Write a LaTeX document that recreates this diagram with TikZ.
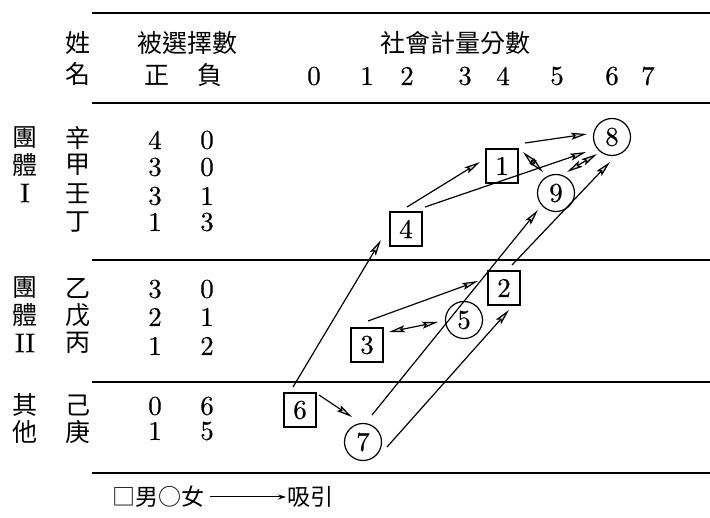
\documentclass[tikz,border=0pt]{standalone}
\usepackage{fontspec}
\newfontfamily\cjk{Noto Sans CJK TC}
\newfontfamily\dig{lmroman10-regular.otf}[FakeBold=0.5]
\usetikzlibrary{arrows.meta}
\tikzset{
  cj/.style={inner sep=0pt, font=\cjk\fontsize{25}{25}\selectfont},
  lg/.style={inner sep=0pt, font=\cjk\fontsize{23}{23}\selectfont},
  num/.style={inner sep=0pt, font=\dig\fontsize{27}{27}\selectfont},
  rule/.style={line width=1.3pt},
  male/.style={draw, line width=1.2pt, minimum width=32pt, minimum height=34pt, inner sep=0pt, font=\dig\fontsize{27}{27}\selectfont},
  female/.style={draw, circle, line width=1.2pt, minimum size=37pt, inner sep=0pt, font=\dig\fontsize{27}{27}\selectfont},
  hd/.tip={Stealth[length=16pt,width=7pt,inset=3pt,fill=gray!35]},
  att/.style={line width=1.2pt, -{hd}},
  mutual/.style={line width=1.2pt, {hd}-{hd}},
  lgarrow/.style={line width=1pt, -{Stealth[length=8pt,width=5pt]}}
}
\begin{document}
\begin{tikzpicture}[x=1pt,y=-1pt]
\useasboundingbox (0,0) rectangle (710,518);
% rules
\draw[rule] (92,13) -- (710,13);
\draw[rule] (92,103) -- (710,103);
\draw[rule] (92,260) -- (710,260);
\draw[rule] (92,382) -- (710,382);
\draw[rule] (92,473) -- (710,473);
% header
\node[cj] (hx) at (78,43) {姓};
\node[cj] (hm) at (78,74) {名};
\node[cj] (hsel) at (187,43) {被選擇數};
\node[cj] (hpos) at (157,75) {正};
\node[cj] (hneg) at (210,75) {負};
\node[cj] (hsoc) at (455,43) {社會計量分數};
\foreach \v/\x in {0/314,1/367,2/407,3/465,4/503,5/557,6/612,7/648}
  \node[num] (s\v) at (\x,76) {\v};
% group I
\node[cj] (g1a) at (25,138) {團};
\node[cj] (g1b) at (25,165) {體};
\node[num] (g1c) at (25,193) {I};
\node[cj] (r1) at (78,138) {辛};
\node[cj] (r2) at (78,165) {甲};
\node[cj] (r3) at (78,194) {壬};
\node[cj] (r4) at (78,222) {丁};
\node[num] (p1) at (155,140) {4}; \node[num] (q1) at (207,140) {0};
\node[num] (p2) at (155,167) {3}; \node[num] (q2) at (207,167) {0};
\node[num] (p3) at (155,196) {3}; \node[num] (q3) at (207,196) {1};
\node[num] (p4) at (155,222) {1}; \node[num] (q4) at (207,222) {3};
% group II
\node[cj] (g2a) at (25,288) {團};
\node[cj] (g2b) at (25,315) {體};
\node[num] (g2c) at (25,343) {II};
\node[cj] (r5) at (78,288) {乙};
\node[cj] (r6) at (78,315) {戊};
\node[cj] (r7) at (78,343) {丙};
\node[num] (p5) at (155,289) {3}; \node[num] (q5) at (207,289) {0};
\node[num] (p6) at (155,317) {2}; \node[num] (q6) at (207,317) {1};
\node[num] (p7) at (155,346) {1}; \node[num] (q7) at (207,346) {2};
% others
\node[cj] (g3a) at (25,405) {其};
\node[cj] (g3b) at (25,432) {他};
\node[cj] (r8) at (78,405) {己};
\node[cj] (r9) at (78,432) {庚};
\node[num] (p8) at (155,406) {0}; \node[num] (q8) at (207,406) {6};
\node[num] (p9) at (155,431) {1}; \node[num] (q9) at (207,431) {5};
% sociogram nodes
\node[female] (n8) at (612,137) {8};
\node[male]   (n1) at (502,166) {1};
\node[female] (n9) at (556,193) {9};
\node[male]   (n4) at (406,229) {4};
\node[male]   (n2) at (504,288) {2};
\node[female] (n5) at (464,320) {5};
\node[male]   (n3) at (367,345) {3};
\node[male]   (n6) at (300,410) {6};
\node[female] (n7) at (363,442) {7};
% connectors
\draw[att] ([shift={(23,-23)}]n1.center) -- ([shift={(-25,-3)}]n8.center);
\draw[att] ([shift={(1,-22)}]n4.center) -- ([shift={(-22,-4)}]n1.center);
\draw[att] ([shift={(19,-22)}]n4.center) -- ([shift={(-26,15)}]n8.center);
\draw[mutual] ([shift={(21,-14)}]n1.center) -- ([shift={(-13,-21)}]n9.center);
\draw[mutual] ([shift={(11,-21)}]n9.center) -- ([shift={(-15,17)}]n8.center);
\draw[att] ([shift={(9,-27)}]n7.center) -- ([shift={(-18,17)}]n9.center);
\draw[att] ([shift={(8,-23)}]n2.center) -- ([shift={(-2,25)}]n8.center);
\draw[att] ([shift={(-7,-23)}]n6.center) -- ([shift={(-25,11)}]n4.center);
\draw[att] ([shift={(1,-24)}]n3.center) -- ([shift={(-26,-7)}]n2.center);
\draw[mutual] ([shift={(22,-13)}]n3.center) -- ([shift={(-26,2)}]n5.center);
\draw[att] ([shift={(19,-15)}]n6.center) -- ([shift={(-11,-25)}]n7.center);
\draw[att] ([shift={(24,5)}]n7.center) -- ([shift={(5,22)}]n2.center);
% legend
\node[lg, anchor=west] (lga) at (112,497) {□男○女};
\coordinate (la) at (210,497);
\coordinate (lb) at (286,497);
\draw[lgarrow] (la) -- (lb);
\node[lg, anchor=west] (lgb) at (287,497) {吸引};
\end{tikzpicture}
\end{document}
